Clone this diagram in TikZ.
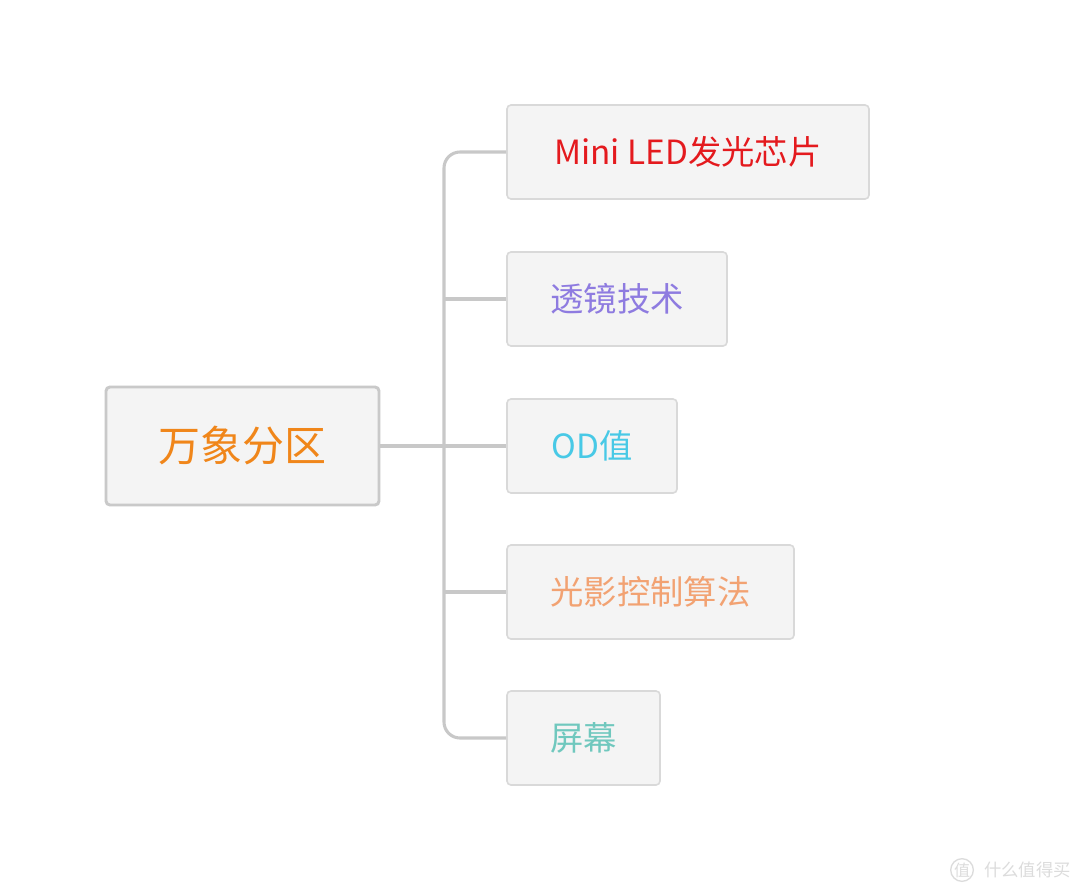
\documentclass[tikz,border=0pt]{standalone}
\usepackage{fontspec}
\setmainfont{Noto Sans CJK SC}
\newfontfamily\cjk{Noto Sans CJK SC}
\definecolor{boxfill}{HTML}{F4F4F4}
\definecolor{boxline}{HTML}{D9D9D9}
\definecolor{rootline}{HTML}{C9C9C9}
\definecolor{conn}{HTML}{C8C8C8}
\definecolor{croot}{HTML}{F0861A}
\definecolor{cred}{HTML}{E41A1E}
\definecolor{cpurple}{HTML}{8E7BE0}
\definecolor{ccyan}{HTML}{48C9E6}
\definecolor{corange}{HTML}{F2A272}
\definecolor{cteal}{HTML}{70C8BE}
\definecolor{wm}{HTML}{DCDCDC}
\begin{document}
\begin{tikzpicture}[x=0.75pt,y=-0.75pt,
  rootbox/.style={draw=rootline,line width=2.2pt,fill=boxfill,rounded corners=3pt,
    minimum width=204.75pt,minimum height=88.5pt,inner sep=0pt,font=\cjk\fontsize{31.5pt}{36pt}\selectfont},
  childbox/.style={draw=boxline,line width=1.2pt,fill=boxfill,rounded corners=3pt,
    minimum height=70.5pt,inner sep=0pt,font=\cjk\fontsize{25pt}{30pt}\selectfont},
  connline/.style={draw=conn,line width=2.3pt}]
\useasboundingbox[fill=white] (0,0) rectangle (1080,892);
\coordinate (j1) at (444,152);
\coordinate (j2) at (444,299);
\coordinate (j3) at (444,446);
\coordinate (j4) at (444,592);
\coordinate (j5) at (444,738);
\node[rootbox,text=croot] (root) at (242.5,446) {万象分区};
\node[childbox,minimum width=271.5pt,text=cred] (c1) at (688,152) {Mini LED发光芯片};
\node[childbox,minimum width=165pt,text=cpurple] (c2) at (617,299) {透镜技术};
\node[childbox,minimum width=127.5pt,text=ccyan] (c3) at (592,446) {OD值};
\node[childbox,minimum width=215.25pt,text=corange] (c4) at (650.5,592) {光影控制算法};
\node[childbox,minimum width=114.75pt,text=cteal] (c5) at (583.5,738) {屏幕};
\draw[connline,rounded corners=12pt] (c1.west) -- (j1) -- (j5) -- (c5.west);
\draw[connline] (j2) -- (c2.west);
\draw[connline] (root.east) -- (c3.west);
\draw[connline] (j4) -- (c4.west);
\node[circle,draw=wm,line width=1pt,minimum size=17pt,inner sep=0pt,text=wm,font=\cjk\fontsize{12pt}{14pt}\selectfont] (wmlogo) at (962,870) {值};
\node[anchor=west,inner sep=0pt,text=wm,font=\cjk\fontsize{13pt}{15pt}\selectfont] (wmtext) at (984,870) {什么值得买};
\end{tikzpicture}
\end{document}
